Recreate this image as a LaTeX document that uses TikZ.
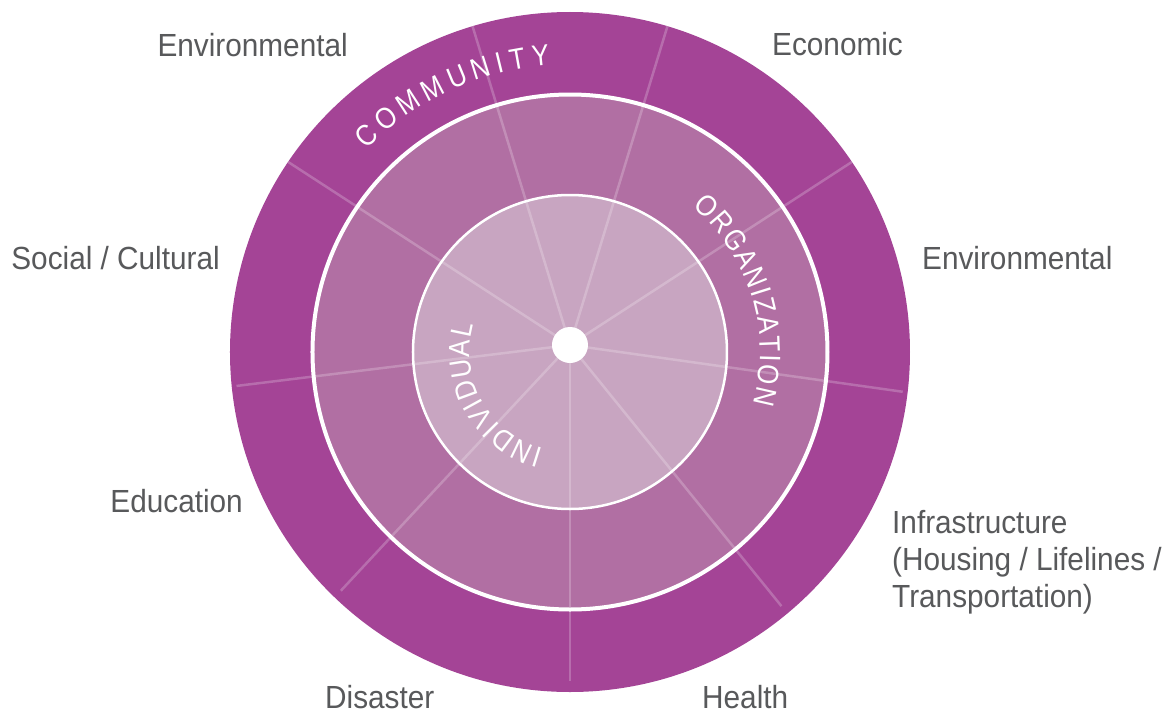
\documentclass[tikz,border=0pt]{standalone}
\usepackage{fontspec}
\setmainfont{Liberation Sans}
\newfontfamily\lblfam{Liberation Sans}[FakeStretch=0.93]
\newfontfamily\ringfam{Liberation Sans}[FakeStretch=0.88]
\newcommand\ringfont{\ringfam\fontsize{29.5}{32}\selectfont}
\newcommand\lblfont{\lblfam\fontsize{32}{37}\selectfont}
\definecolor{outerc}{HTML}{A44496}
\definecolor{midc}{HTML}{B16FA3}
\definecolor{innc}{HTML}{C8A5C1}
\definecolor{lblc}{HTML}{58595B}
% #1 name prefix, #2 baseline radius, #3 spacing radius, #4 leading angle, #5 tracking, #6 letter/width list
\newcommand\arcword[6]{%
  \xdef\arcang{#4}%
  \foreach \ch/\w [count=\k] in {#6}{%
    \pgfmathsetmacro\midang{\arcang-(0.5*\w)/#3*57.29578}%
    \node[ringtext, rotate=\midang-90] (#1\k) at (\midang:#2) {\ch};%
    \pgfmathsetmacro\nexta{\arcang-(\w+#5)/#3*57.29578}%
    \xdef\arcang{\nexta}%
  }%
}
\tikzset{
  ringtext/.style={text=white, font=\ringfont, inner sep=0pt, anchor=base},
  lbl/.style={text=lblc, font=\lblfont, inner sep=0pt},
  spoke/.style={draw=white, draw opacity=0.22, line width=2.5pt},
}
\begin{document}
\begin{tikzpicture}[x=1pt, y=1pt]
\useasboundingbox (-570,-361) rectangle (606,352);
\fill[white] (-570,-361) rectangle (606,352);
% rings
\fill[outerc] (0,0) circle (340);
\fill[midc] (0,0) circle (257.5);
\fill[innc] (0,0) circle (157);
% spokes
\coordinate (hub) at (0,7);
\begin{scope}
  \clip (0,0) circle (340);
  \foreach \a in {147,107,73,33,-8,-51,-90,-133,187}
    \draw[spoke] (hub) -- ++(\a:336);
\end{scope}
% ring borders
\draw[white, line width=4pt] (0,0) circle (257.5);
\draw[white, line width=2.5pt] (0,0) circle (157);
% hub dot
\fill[white] (hub) circle (18);
% curved ring titles
\arcword{com}{287.5}{298}{135.1}{6.7}{C/18.74,O/20.2,M/21.63,M/21.63,U/18.74,N/18.74,I/7.22,T/15.86,Y/17.32}
\arcword{org}{190}{201}{49.6}{2.8}{O/20.2,R/18.74,G/20.2,A/17.32,N/18.74,I/7.22,Z/15.86,A/17.32,T/15.86,I/7.22,O/20.2,N/18.74}
\arcword{ind}{100.5}{111}{254.5}{3.2}{I/7.22,N/18.74,D/18.74,I/7.22,V/17.32,I/7.22,D/18.74,U/18.74,A/17.32,L/14.43}
% outer labels
\node[lbl, anchor=base east] (envL) at (-222,296) {Environmental};
\node[lbl, anchor=base west] (econ) at (202,297) {Economic};
\node[lbl, anchor=base east] (soc) at (-350,83) {Social / Cultural};
\node[lbl, anchor=base west] (envR) at (352,83) {Environmental};
\node[lbl, anchor=base east] (edu) at (-327,-160) {Education};
\node[lbl, anchor=base west] (infraA) at (322,-181) {Infrastructure};
\node[lbl, anchor=base west] (infraB) at (322,-218) {(Housing / Lifelines /};
\node[lbl, anchor=base west] (infraC) at (322,-255) {Transportation)};
\node[lbl, anchor=base west] (dis) at (-245,-356) {Disaster};
\node[lbl, anchor=base west] (hea) at (132,-356) {Health};
\end{tikzpicture}
\end{document}
